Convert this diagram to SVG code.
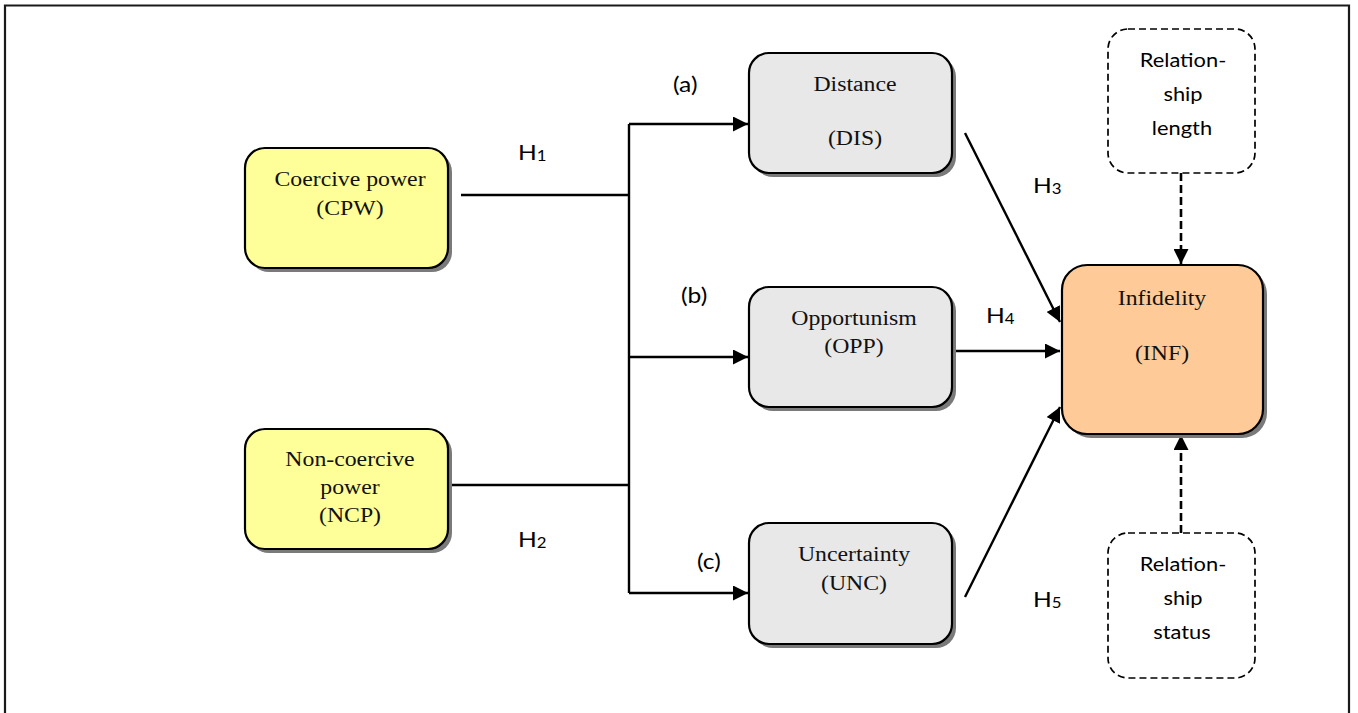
<svg xmlns="http://www.w3.org/2000/svg" width="1358" height="713" viewBox="0 0 1358 713">
<style>
.box{stroke:#000;stroke-width:2.2}
.shadow{fill:#7a7a7a}
.serif{font-family:"Liberation Serif","Times New Roman",serif;font-size:20.5px;fill:#111;text-anchor:middle}
.sans{font-family:Lato,"Open Sans","Liberation Sans",sans-serif;font-size:22px;fill:#000}
.rel{font-family:Lato,"Open Sans","Liberation Sans",sans-serif;font-size:19px;fill:#000;text-anchor:middle}
.sub{font-size:15px}
.conn{fill:none;stroke:#000;stroke-width:2.4}
.dconn{fill:none;stroke:#000;stroke-width:2.6;stroke-dasharray:8 4}
.dbox{fill:#fff;stroke:#000;stroke-width:1.7;stroke-dasharray:7 4}
</style>
<defs>
<marker id="arr" markerUnits="userSpaceOnUse" markerWidth="17" markerHeight="15" refX="15" refY="7.5" orient="auto">
<path d="M0,0 L15,7.5 L0,15 z" fill="#000"/>
</marker>
</defs>
<rect width="1358" height="713" fill="#fff"/>
<path d="M5,720 V5.5 H1349 V720" fill="none" stroke="#1a1a1a" stroke-width="2.2"/>

<g id="connectors">
<path class="conn" d="M461,195 H629"/>
<path class="conn" d="M448,485 H629"/>
<path class="conn" d="M629,124 V593"/>
<path class="conn" d="M629,124 H748" marker-end="url(#arr)"/>
<path class="conn" d="M629,357 H748" marker-end="url(#arr)"/>
<path class="conn" d="M629,593 H748" marker-end="url(#arr)"/>
<path class="conn" d="M965,133 L1060,322" marker-end="url(#arr)"/>
<path class="conn" d="M953,351 H1060" marker-end="url(#arr)"/>
<path class="conn" d="M965,597 L1060,407" marker-end="url(#arr)"/>
<path class="dconn" d="M1181,173 V264" marker-end="url(#arr)"/>
<path class="dconn" d="M1181,533 V435" marker-end="url(#arr)"/>
<text class="sans" transform="translate(518,160) scale(1.12,1)">H<tspan class="sub" dy="1">1</tspan></text>
<text class="sans" transform="translate(518,547) scale(1.12,1)">H<tspan class="sub" dy="1">2</tspan></text>
<text class="sans" transform="translate(1033,193) scale(1.12,1)">H<tspan class="sub" dy="1">3</tspan></text>
<text class="sans" transform="translate(986,323) scale(1.12,1)">H<tspan class="sub" dy="1">4</tspan></text>
<text class="sans" transform="translate(1033,607) scale(1.12,1)">H<tspan class="sub" dy="1">5</tspan></text>
<text class="sans" transform="translate(673,92) scale(1.12,1)">(a)</text>
<text class="sans" transform="translate(681,303) scale(1.12,1)">(b)</text>
<text class="sans" transform="translate(697,569) scale(1.12,1)">(c)</text>
</g>

<g id="cpw">
<rect class="shadow" x="249" y="152" width="203" height="120" rx="20"/>
<rect class="box" x="245" y="148" width="203" height="120" rx="20" fill="#ffff99"/>
<text class="serif" transform="translate(350,186) scale(1.16,1)">Coercive power</text>
<text class="serif" transform="translate(350,215) scale(1.16,1)">(CPW)</text>
</g>

<g id="ncp">
<rect class="shadow" x="249" y="433" width="203" height="120" rx="20"/>
<rect class="box" x="245" y="429" width="203" height="120" rx="20" fill="#ffff99"/>
<text class="serif" transform="translate(350,466) scale(1.16,1)">Non-coercive</text>
<text class="serif" transform="translate(350,494) scale(1.16,1)">power</text>
<text class="serif" transform="translate(350,522) scale(1.16,1)">(NCP)</text>
</g>

<g id="dis">
<rect class="shadow" x="753" y="57" width="203" height="120" rx="20"/>
<rect class="box" x="749" y="53" width="203" height="120" rx="20" fill="#e8e8e8"/>
<text class="serif" transform="translate(855,91) scale(1.16,1)">Distance</text>
<text class="serif" transform="translate(855,145) scale(1.16,1)">(DIS)</text>
</g>

<g id="opp">
<rect class="shadow" x="753" y="291" width="203" height="120" rx="20"/>
<rect class="box" x="749" y="287" width="203" height="120" rx="20" fill="#e8e8e8"/>
<text class="serif" transform="translate(854,325) scale(1.16,1)">Opportunism</text>
<text class="serif" transform="translate(854,353) scale(1.16,1)">(OPP)</text>
</g>

<g id="unc">
<rect class="shadow" x="753" y="527" width="203" height="121" rx="20"/>
<rect class="box" x="749" y="523" width="203" height="121" rx="20" fill="#e8e8e8"/>
<text class="serif" transform="translate(854,561) scale(1.16,1)">Uncertainty</text>
<text class="serif" transform="translate(854,590) scale(1.16,1)">(UNC)</text>
</g>

<g id="inf">
<rect class="shadow" x="1066" y="269" width="201" height="169" rx="25"/>
<rect class="box" x="1062" y="265" width="201" height="169" rx="25" fill="#fecb98"/>
<text class="serif" transform="translate(1162,305) scale(1.16,1)">Infidelity</text>
<text class="serif" transform="translate(1162,360) scale(1.16,1)">(INF)</text>
</g>

<g id="rel-length">
<rect class="dbox" x="1108" y="29" width="147" height="144" rx="20"/>
<text class="rel" transform="translate(1183,67) scale(1.15,1)">Relation-</text>
<text class="rel" transform="translate(1183,101) scale(1.15,1)">ship</text>
<text class="rel" transform="translate(1182,135) scale(1.15,1)">length</text>
</g>

<g id="rel-status">
<rect class="dbox" x="1108" y="533" width="147" height="145" rx="20"/>
<text class="rel" transform="translate(1183,571) scale(1.15,1)">Relation-</text>
<text class="rel" transform="translate(1183,605) scale(1.15,1)">ship</text>
<text class="rel" transform="translate(1182,639) scale(1.15,1)">status</text>
</g>
</svg>
